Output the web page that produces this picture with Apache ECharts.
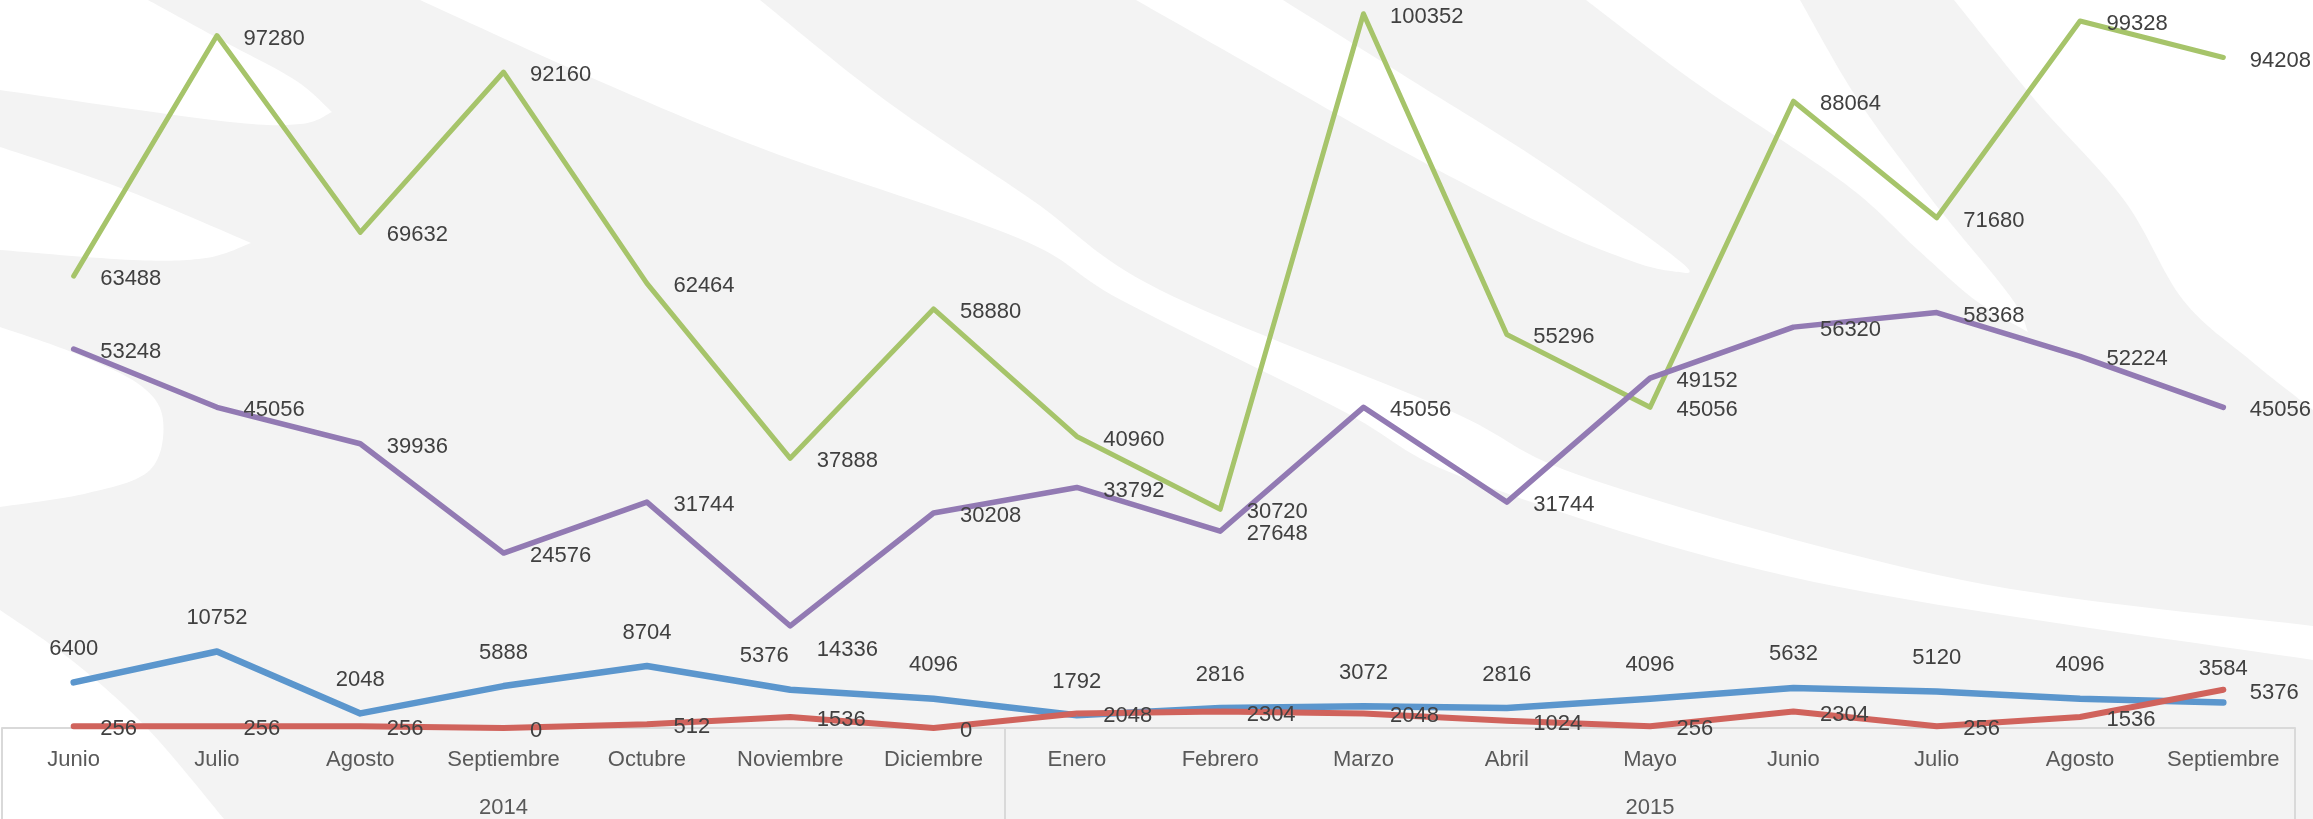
<!DOCTYPE html>
<html>
<head>
<meta charset="utf-8">
<script src="https://cdn.jsdelivr.net/npm/echarts@6/dist/echarts.min.js"></script>
<style>
html,body{margin:0;padding:0;background:#f3f3f3;}
#c{width:2313px;height:819px;}
</style>
</head>
<body>
<div id="c"></div>
<script>
const categories = ['Junio','Julio','Agosto','Septiembre','Octubre','Noviembre','Diciembre',
  'Enero','Febrero','Marzo','Abril','Mayo','Junio','Julio','Agosto','Septiembre'];
const yearLabels = ['2014','2015'];
const yearSpans = [7, 9];

const green  = [63488, 97280, 69632, 92160, 62464, 37888, 58880, 40960, 30720, 100352, 55296, 45056, 88064, 71680, 99328, 94208];
const purple = [53248, 45056, 39936, 24576, 31744, 14336, 30208, 33792, 27648, 45056, 31744, 49152, 56320, 58368, 52224, 45056];
const blue   = [6400, 10752, 2048, 5888, 8704, 5376, 4096, 1792, 2816, 3072, 2816, 4096, 5632, 5120, 4096, 3584];
const red    = [256, 256, 256, 0, 512, 1536, 0, 2048, 2304, 2048, 1024, 256, 2304, 256, 1536, 5376];

// year row and group boundaries for the two-level axis
const yearRow = categories.map(() => '');
const groupStarts = [];
let s = 0;
yearSpans.forEach((span, k) => {
  groupStarts.push(s);
  yearRow[s + Math.floor((span - 1) / 2)] = yearLabels[k];
  s += span;
});

// decorative background swooshes (Catmull-Rom sampled outlines)
function cr(pts, n) {
  n = n || 16;
  const out = [];
  for (let i = 0; i < pts.length - 1; i++) {
    const p0 = pts[Math.max(i - 1, 0)], p1 = pts[i], p2 = pts[i + 1], p3 = pts[Math.min(i + 2, pts.length - 1)];
    for (let j = 0; j < n; j++) {
      const t = j / n, t2 = t * t, t3 = t2 * t;
      const f = (a, b, c, d) => 0.5 * (2 * b + (-a + c) * t + (2 * a - 5 * b + 4 * c - d) * t2 + (-a + 3 * b - 3 * c + d) * t3);
      out.push([f(p0[0], p1[0], p2[0], p3[0]), f(p0[1], p1[1], p2[1], p3[1])]);
    }
  }
  out.push(pts[pts.length - 1]);
  return out;
}
const shapes = [
  [[0, 0]].concat(cr([[148,0],[221,40],[295,80],[332,112]]), cr([[332,112],[300,124],[221,121],[0,90]])),
  cr([[0,147],[118,187],[251,243]]).concat(cr([[251,243],[206,258],[133,260],[0,250]])),
  cr([[0,327],[74,353],[140,385],[163,420],[150,470],[88,493],[0,507]]),
  cr([[0,610],[74,662],[148,729],[224,819]]).concat([[0,819]]),
  cr([[760,0],[885,100],[1032,200],[1160,290],[1446,409],[1593,480],[1962,580],[2313,626]])
    .concat(cr([[2313,660],[1814,582],[1475,482],[1339,409],[1121,300],[1018,238],[766,150],[590,77],[420,0]])),
  cr([[1136,0],[1254,67],[1401,150],[1549,227],[1637,263],[1677,272]]).concat(cr([[1677,272],[1681,262],[1549,167],[1416,83],[1283,0]])),
  cr([[1586,0],[1696,83],[1844,183],[1918,250],[1975,300],[2028,332]]).concat(cr([[2028,332],[2010,296],[1932,200],[1858,100],[1800,0]])),
  cr([[1954,0],[2035,100],[2124,200],[2183,300],[2250,360],[2313,410]]).concat([[2313,0]])
];

const FONT = 'Liberation Sans';
const labelBase = { show: true, fontFamily: FONT, fontSize: 22, lineHeight: 22, color: '#404040' };

function lineSeries(name, data, color, width, label) {
  return {
    name, type: 'line', data,
    xAxisIndex: 0, yAxisIndex: 0,
    symbol: 'circle', symbolSize: 1, showSymbol: true,
    itemStyle: { color },
    lineStyle: { color, width, cap: 'round', join: 'round' },
    label: Object.assign({}, labelBase, label),
    emphasis: { disabled: true },
    z: 3
  };
}
const rightLabel = { position: 'right', distance: 26, offset: [0, 3] };

const chart = echarts.init(document.getElementById('c'), null, { renderer: 'canvas' });
chart.setOption({
  animation: false,
  backgroundColor: '#f3f3f3',
  graphic: { elements: shapes.map(p => ({
    type: 'polygon', silent: true, z: -100,
    shape: { points: p },
    style: { fill: '#ffffff', stroke: null }
  })) },
  grid: { left: 2, right: 18, top: 2, bottom: 91, containLabel: false },
  xAxis: [
    {
      type: 'category', data: categories, boundaryGap: true, position: 'bottom',
      axisLine: { show: true, lineStyle: { color: '#d9d9d9', width: 2 } },
      axisTick: { show: true, length: 100, interval: i => groupStarts.includes(i), lineStyle: { color: '#d9d9d9', width: 2 } },
      axisLabel: { interval: 0, margin: 21, fontFamily: FONT, fontSize: 22, lineHeight: 22, color: '#595959' },
      splitLine: { show: false }
    },
    {
      type: 'category', data: yearRow, boundaryGap: true, position: 'bottom',
      axisLine: { show: false }, axisTick: { show: false },
      axisLabel: { interval: 0, margin: 69, fontFamily: FONT, fontSize: 22, lineHeight: 22, color: '#595959' },
      splitLine: { show: false }
    }
  ],
  yAxis: { type: 'value', min: 0, max: 102000, show: false, splitLine: { show: false } },
  series: [
    lineSeries('blue', blue.map((v, i) => i === 5 ? { value: v, label: { offset: [-26, 0] } } : v), '#5b96cd', 6.5, { position: 'top', distance: 22 }),
    lineSeries('red', red, '#d0635c', 6, rightLabel),
    lineSeries('green', green, '#a6c46a', 5, rightLabel),
    lineSeries('purple', purple.map((v, i) => i === 5 ? { value: v, label: { offset: [0, 24] } } : v), '#927ab3', 5.5, rightLabel)
  ]
});
</script>
</body>
</html>
